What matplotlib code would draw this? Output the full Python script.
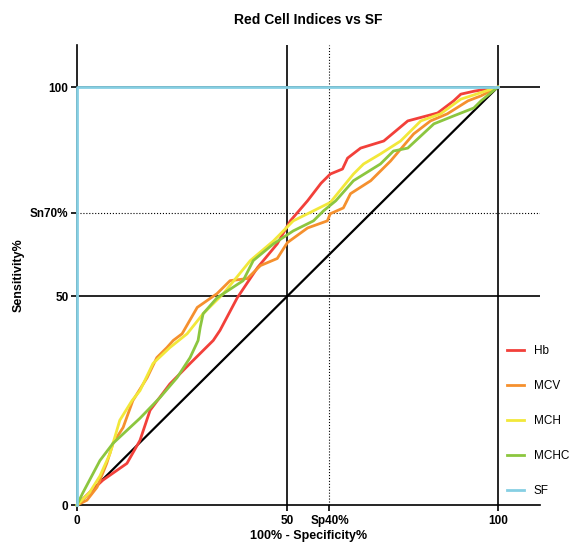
import matplotlib.pyplot as plt

plt.rcParams['font.family'] = ['Liberation Sans', 'DejaVu Sans']

# ROC curves (100% - specificity, sensitivity)
hb_x = [0, 3, 6.2, 11.9, 15, 17.4, 22.1, 27, 32.4, 34, 38.1, 42.9, 47.6, 50.7, 54.8, 58, 60.2, 63.1,
        64.3, 67.4, 72.9, 78.6, 85.7, 89.5, 91.2, 94.3, 99, 100]
hb_y = [0, 3, 6.0, 10.0, 15.5, 22.7, 29, 34, 39.4, 41.8, 49.6, 56.8, 62.5, 68, 72.8, 77, 79.2, 80.4,
        83, 85.4, 87.1, 91.9, 93.8, 96.7, 98.3, 99, 99.8, 100]

mcv_x = [0, 2.4, 4.8, 7.1, 8.6, 11, 13.3, 16.7, 19, 21.4, 22.9, 25, 28.6, 33.3, 36.4, 40.5, 43.6, 47.6,
         50, 54.8, 59.5, 60.2, 63.3, 65, 69.8, 74.5, 80, 84, 88, 92.9, 96, 100]
mcv_y = [0, 1.2, 4.3, 10, 14.8, 18.6, 25, 30.5, 35.3, 37.7, 39.4, 41, 47.3, 50.6, 53.7, 54.2, 57.3, 59,
         62.8, 66.3, 68, 69.7, 71.1, 74.5, 77.6, 82.3, 88.8, 91.9, 93.6, 96.7, 97.9, 100]

mch_x = [0, 3, 5.5, 7.9, 10.2, 13.1, 15, 18.1, 22.1, 26.2, 30, 34.8, 41.2, 46.7, 51.4, 56.2, 60.2,
         65.7, 68.1, 72.1, 76.9, 81.7, 86.4, 91.2, 100]
mch_y = [0, 3, 7, 12.4, 20.3, 25, 27.4, 33.9, 37.7, 41, 45.8, 50.6, 58.5, 63.2, 68, 70.4, 72.4,
         79.2, 81.6, 84, 87.1, 91.9, 93.6, 97.1, 100]

mchc_x = [0, 1.4, 5.5, 8.6, 11.9, 15, 19.8, 23.8, 26.9, 28.8, 29.3, 30, 33.3, 39.5, 41.9, 46.7, 51.4,
          56.2, 58.6, 61.5, 65.7, 72.1, 75.2, 78.6, 84.8, 89.5, 94.3, 96, 100]
mchc_y = [0, 2.9, 10.7, 14.8, 17.9, 20.8, 25.8, 30.5, 35.3, 39.4, 42.5, 45.8, 49.6, 53.7, 58.5, 62.5,
          65.6, 68, 70.4, 72.8, 77.6, 81.6, 84.7, 85.4, 91.2, 93.1, 95, 96.7, 100]

sf_x = [0, 0, 100]
sf_y = [0, 100, 100]

series = {
    "Hb": (hb_x, hb_y, "#f2403a"),
    "MCV": (mcv_x, mcv_y, "#f5902e"),
    "MCH": (mch_x, mch_y, "#f2e83a"),
    "MCHC": (mchc_x, mchc_y, "#8cc63f"),
    "SF": (sf_x, sf_y, "#86cfe3"),
}

fig = plt.figure(figsize=(5.69, 5.45), dpi=100)
ax = fig.add_axes([0.135, 0.073, 0.814, 0.844])

# reference lines
for v in [50, 100]:
    ax.axvline(v, color="black", lw=1.2, zorder=1)
    ax.axhline(v, color="black", lw=1.2, zorder=1)
ax.axvline(60, color="black", lw=0.8, ls=":", zorder=1)
ax.axhline(70, color="black", lw=0.8, ls=":", zorder=1)
ax.plot([0, 100], [0, 100], color="black", lw=1.6, zorder=2)

for name, (x, y, c) in series.items():
    ax.plot(x, y, color=c, lw=2, label=name, zorder=3, clip_on=False)

ax.set_xlim(0, 110)
ax.set_ylim(0, 110)
ax.spines["top"].set_visible(False)
ax.spines["right"].set_visible(False)
ax.spines["left"].set_linewidth(1.2)
ax.spines["bottom"].set_linewidth(1.2)

ax.set_xticks([0, 50, 60, 100])
ax.set_xticklabels(["0", "50", "Sp40%", "100"], fontweight="bold", fontsize=8.5)
ax.set_yticks([0, 50, 70, 100])
ax.set_yticklabels(["0", "50", "Sn70%", "100"], fontweight="bold", fontsize=8.5)
ax.tick_params(length=4, width=1.2)
ax.tick_params(axis="x", pad=3)
ax.tick_params(axis="y", pad=2)

ax.set_xlabel("100% - Specificity%", fontweight="bold", fontsize=9, labelpad=2)
ax.set_ylabel("Sensitivity%", fontweight="bold", fontsize=9, labelpad=4)
ax.set_title("Red Cell Indices vs SF", fontweight="bold", fontsize=10, pad=15)

ax.legend(loc="lower left", bbox_to_anchor=(0.905, -0.005), frameon=False,
          fontsize=8.5, labelspacing=1.95, handlelength=1.5, handletextpad=0.8)

plt.savefig("out.png", dpi=100)
